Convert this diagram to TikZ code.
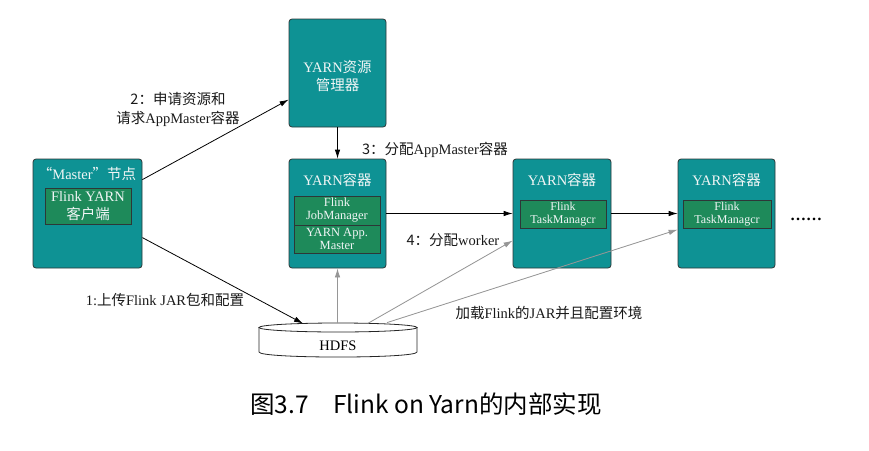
\documentclass[tikz,border=0pt]{standalone}
\usepackage{fontspec}
\setmainfont{Liberation Serif}
\newfontfamily\cjk{Noto Sans CJK SC}
\usetikzlibrary{calc,arrows.meta}
\newcommand{\zh}[1]{{\cjk #1}}
\definecolor{tealbox}{RGB}{14,146,148}
\definecolor{greenbox}{RGB}{30,138,90}
\definecolor{boxline}{RGB}{45,55,55}
\definecolor{arrgray}{RGB}{150,150,150}
\definecolor{boxtext}{RGB}{240,245,245}
\begin{document}
\begin{tikzpicture}[x=1pt,y=-1pt,
  box/.style={draw=boxline, fill=tealbox, rounded corners=3pt, line width=0.8pt, inner sep=0pt},
  innerbox/.style={draw=boxline, fill=greenbox, line width=0.8pt, inner sep=0pt, text=boxtext, align=center, font=\fontsize{12.5}{13}\selectfont},
  boxtitle/.style={text=boxtext, inner sep=0pt, align=center, font=\fontsize{14.5}{18}\selectfont},
  lbl/.style={text=black!90, inner sep=0pt, align=center, font=\fontsize{14.5}{19}\selectfont},
  arr/.style={-{Latex[length=9pt,width=5.5pt]}, line width=0.8pt, draw=black},
  garr/.style={-{Latex[length=9pt,width=5.5pt]}, line width=0.8pt, draw=arrgray, fill=arrgray},
  cyl/.style={draw=black!85, line width=0.8pt, fill=white}
]
\useasboundingbox (0,0) rectangle (869,450);

% boxes
\node[box, minimum width=109pt, minimum height=109pt] (master) at (87.5,213.5) {};
\node[box, minimum width=97pt, minimum height=108pt] (rm) at (337.5,73) {};
\node[box, minimum width=97pt, minimum height=109pt] (c1) at (337.5,213.5) {};
\node[box, minimum width=98pt, minimum height=109pt] (c2) at (562,213.5) {};
\node[box, minimum width=97pt, minimum height=109pt] (c3) at (726.5,213.5) {};

% titles
\node[boxtitle] (mastert) at (87,174) {\zh{“}Master\zh{”节点}};
\node[boxtitle] (rmt) at (337.5,76) {YARN\zh{资源}\\\zh{管理器}};
\node[boxtitle] (c1t) at (337.5,180) {YARN\zh{容器}};
\node[boxtitle] (c2t) at (562,180) {YARN\zh{容器}};
\node[boxtitle] (c3t) at (726.5,180) {YARN\zh{容器}};

% inner boxes
\node[innerbox, minimum width=86pt, minimum height=36pt, font=\fontsize{14.5}{18}\selectfont] (client) at (88,206) {Flink YARN\\\zh{客户端}};
\node[innerbox, minimum width=86pt, minimum height=29pt] (jm) at (337,210.5) {Flink\\JobManager};
\node[innerbox, minimum width=86pt, minimum height=28pt] (am) at (337,239) {YARN App.\\Master};
\node[innerbox, minimum width=86pt, minimum height=28pt, font=\fontsize{12}{13}\selectfont] (tm2) at (563,214) {Flink\\TaskManagcr};
\node[innerbox, minimum width=88pt, minimum height=28pt, font=\fontsize{12}{13}\selectfont] (tm3) at (727,214) {Flink\\TaskManagcr};

\node[inner sep=0pt, font=\fontsize{16}{18}\selectfont\bfseries] (dots) at (806,219) {……};

% HDFS cylinder
\draw[cyl] (259,327.5) -- (259,352) .. controls (259,358.7) and (417,358.7) .. (417,352) -- (417,327.5);
\draw[cyl] (338,327.5) ellipse [x radius=79, y radius=4.5];
\node[inner sep=0pt, font=\fontsize{14.5}{18}\selectfont] (hdfs) at (338,346) {HDFS};
\coordinate (hin) at (303,323.5);
\coordinate (h1) at (337.5,323);
\coordinate (h2) at (368,323.3);
\coordinate (h3) at (387,322.6);

% connectors
\draw[arr] ($(master.north east)+(0,21)$) -- ($(rm.north west)+(0,81)$);
\draw[arr] ($(master.north east)+(0,79)$) -- (hin);
\draw[arr] (rm.south) -- (c1.north);
\draw[arr] (c1.east) -- (c2.west);
\draw[arr] (c2.east) -- (c3.west);
\draw[garr] (h1) -- (c1.south);
\draw[garr] (h2) -- ($(c2.north west)+(0,82)$);
\draw[garr] (h3) -- ($(c3.north west)+(0,71)$);

% labels
\node[lbl] (l2) at (178,109) {\zh{2：申请资源和}\\\zh{请求}AppMaster\zh{容器}};
\node[lbl] (l3) at (435,150) {\zh{3：分配}AppMaster\zh{容器}};
\node[lbl] (l4) at (453,240) {\zh{4：分配}worker};
\node[lbl] (l1) at (165,300) {1:\zh{上传}Flink JAR\zh{包和配置}};
\node[lbl] (lload) at (549,313) {\zh{加载}Flink\zh{的}JAR\zh{并且配置环境}};

% caption
\node[inner sep=0pt, font=\cjk\fontsize{24.5}{28}\selectfont] (cap) at (426,404) {图3.7\hspace{1em}Flink on Yarn的内部实现};
\end{tikzpicture}
\end{document}
